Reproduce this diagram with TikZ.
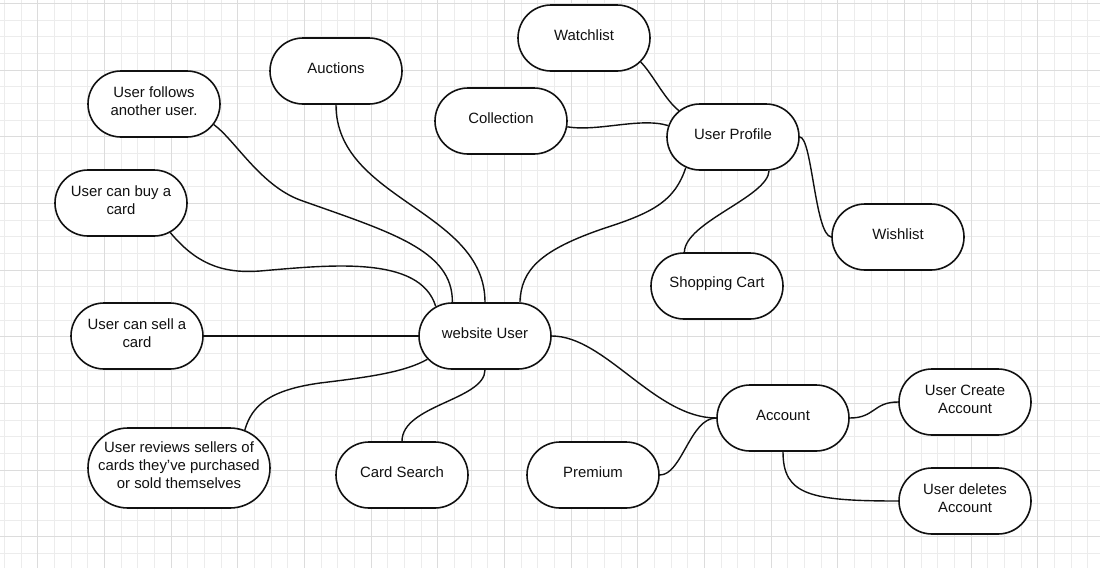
\documentclass[tikz,border=0pt]{standalone}
\usepackage{fontspec}
\setmainfont{Liberation Sans}
\usetikzlibrary{shapes.misc}

\definecolor{gridminor}{HTML}{ECECEC}
\definecolor{gridmajor}{HTML}{DCDCDC}
\definecolor{ink}{HTML}{111111}

\begin{document}
\begin{tikzpicture}[x=1pt,y=-1pt,
  topic/.style={draw=ink, line width=1.6pt, fill=white, rounded rectangle,
    minimum width=132pt, minimum height=66pt, inner sep=0pt},
  wide/.style={minimum width=182pt, minimum height=80pt},
  txt/.style={align=center, text=ink, inner sep=0pt, yshift=2.5pt,
    font=\fontsize{14.9}{18}\selectfont},
  link/.style={draw=ink, line width=1.4pt},
  minor/.style={draw=gridminor, line width=0.9pt},
  major/.style={draw=gridmajor, line width=1pt}]

% page and grid
\fill[white] (0,0) rectangle (1100,568);
\useasboundingbox (0,0) rectangle (1100,568);
\foreach \i in {0,...,65} \draw[minor] (4.5+\i*16.667,0) -- (4.5+\i*16.667,568);
\foreach \j in {0,...,33} \draw[minor] (0,3.5+\j*16.667) -- (1100,3.5+\j*16.667);
\foreach \i in {0,...,15} \draw[major] (37.8+\i*66.667,0) -- (37.8+\i*66.667,568);
\foreach \j in {0,...,8} \draw[major] (0,3.5+\j*66.667) -- (1100,3.5+\j*66.667);

% topics
\node[topic, label={[txt]center:Watchlist}] (wl) at (584,38) {};
\node[topic, label={[txt]center:Auctions}] (auc) at (336,71) {};
\node[topic, label={[txt]center:{User follows\\another user.}}] (fol) at (154,104) {};
\node[topic, label={[txt]center:Collection}] (col) at (501,121) {};
\node[topic, label={[txt]center:User Profile}] (prof) at (733,137) {};
\node[topic, label={[txt]center:{User can buy a\\card}}] (buy) at (121,203) {};
\node[topic, label={[txt]center:Wishlist}] (wish) at (898,237) {};
\node[topic, label={[txt]center:Shopping Cart}] (cart) at (717,286) {};
\node[topic, label={[txt]center:{User can sell a\\card}}] (sell) at (137,336) {};
\node[topic, label={[txt]center:website User}] (wu) at (485,336) {};
\node[topic, label={[txt]center:Account}] (acc) at (783,418) {};
\node[topic, label={[txt]center:{User Create\\Account}}] (uca) at (965,402) {};
\node[topic, label={[txt]center:Premium}] (prem) at (593,475) {};
\node[topic, label={[txt]center:Card Search}] (cs) at (402,475) {};
\node[topic, wide, label={[txt]center:{User reviews sellers of\\cards they've purchased\\or sold themselves}}] (rev) at (179,468) {};
\node[topic, label={[txt]center:{User deletes\\Account}}] (uda) at (965,501) {};

% profile branch
\draw[link] (wl.-23) .. controls (652,73) and (665,100) .. (prof.154);
\draw[link] (col.-5) .. controls (598,132) and (640,117) .. (prof.170);
\draw[link] (prof.0) .. controls (812,137) and (815,235) .. (wish.180);
\draw[link] (prof.-43) .. controls (768,197) and (685,222) .. (cart.134);
\draw[link] (prof.213) .. controls (675,200) and (655,212) .. (605,228)
            .. controls (540,250) and (521,270) .. (wu.44);

% left-hand branches
\draw[link] (auc.south) .. controls (336,200) and (485,210) .. (wu.north);
\draw[link] (fol.-19) .. controls (235,140) and (260,185) .. (300,200)
            .. controls (390,232) and (453,250) .. (wu.134);
\draw[link] (buy.-31) .. controls (195,262) and (220,274) .. (260,271)
            .. controls (330,265) and (420,255) .. (wu.149);
\draw[link] (sell.east) -- (wu.west);
\draw[link] (rev.30) .. controls (252,405) and (270,390) .. (320,383)
            .. controls (370,377) and (405,372) .. (wu.202);
\draw[link] (wu.south) .. controls (485,400) and (402,405) .. (cs.north);

% account branch
\draw[link] (wu.east) .. controls (605,336) and (655,418) .. (acc.west);
\draw[link] (prem.east) .. controls (682,475) and (690,418) .. (acc.west);
\draw[link] (acc.east) .. controls (875,418) and (873,402) .. (uca.west);
\draw[link] (acc.south) .. controls (783,495) and (810,501) .. (uda.west);
\end{tikzpicture}
\end{document}
